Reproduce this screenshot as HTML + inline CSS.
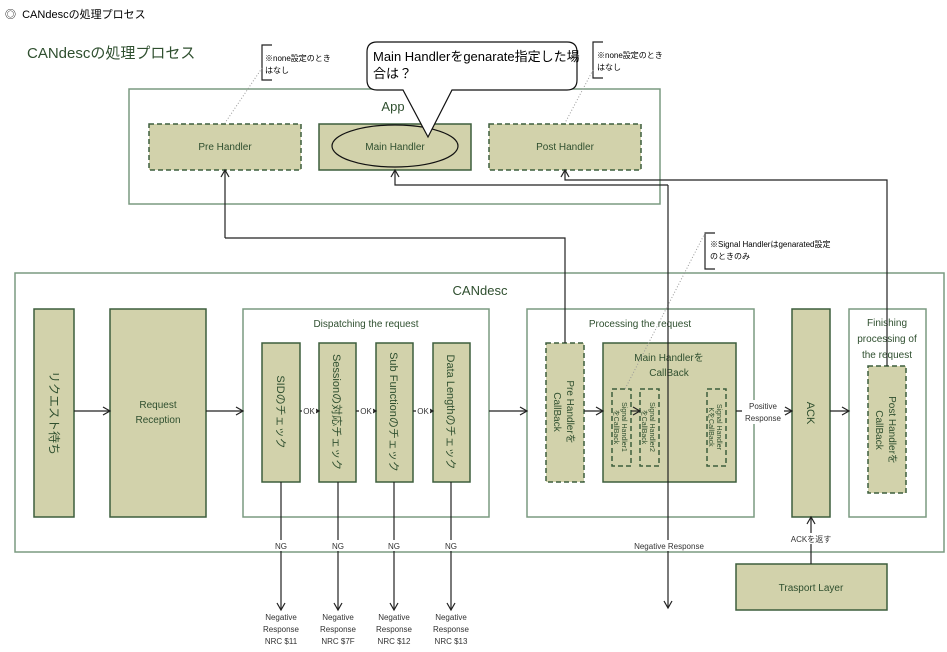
<!DOCTYPE html>
<html><head><meta charset="utf-8"><style>
body{margin:0;background:#fff}
svg{display:block;font-family:"Liberation Sans","Noto Sans CJK JP",sans-serif}
.g{fill:#2f4f2f}
.bx{fill:#fff;stroke:#7a9a80;stroke-width:1.5}
.f{fill:#d2d2ab;stroke:#3d5e3d;stroke-width:1.5}
.d{fill:#d2d2ab;stroke:#3d5e3d;stroke-width:1.5;stroke-dasharray:5,3}
.ln{stroke:#222;stroke-width:1.2;fill:none}
.dot{stroke:#999;stroke-width:1;stroke-dasharray:1,2;fill:none}
</style></head><body>
<svg width="947" height="652" viewBox="0 0 947 652">
<defs><marker id="a" markerWidth="10" markerHeight="10" refX="8" refY="5" orient="auto" markerUnits="userSpaceOnUse"><path d="M1,1 L8,5 L1,9" fill="none" stroke="#222" stroke-width="1.2"/></marker></defs>
<text x="5" y="18" font-size="11" fill="#000">◎&#160;&#160;CANdescの処理プロセス</text>
<text x="27" y="58" font-size="15" class="g">CANdescの処理プロセス</text>

<!-- App -->
<rect class="bx" x="129" y="89" width="531" height="115"/>
<text x="393" y="111" font-size="13" class="g" text-anchor="middle">App</text>
<rect class="d" x="149" y="124" width="152" height="46"/>
<text x="225" y="150" font-size="10" class="g" text-anchor="middle">Pre Handler</text>
<rect class="f" x="319" y="124" width="152" height="46"/>
<ellipse cx="395" cy="146" rx="63" ry="21" fill="none" stroke="#111" stroke-width="1.2"/>
<text x="395" y="150" font-size="10" class="g" text-anchor="middle">Main Handler</text>
<rect class="d" x="489" y="124" width="152" height="46"/>
<text x="565" y="150" font-size="10" class="g" text-anchor="middle">Post Handler</text>

<!-- notes -->
<path class="ln" d="M272,45 H262 V80 H272" stroke-width="1"/>
<text x="265" y="61" font-size="8" fill="#000">※none設定のとき</text>
<text x="265" y="73" font-size="8" fill="#000">はなし</text>
<path class="dot" d="M262,68 L225,123"/>
<path class="ln" d="M603,42 H593 V78 H603" stroke-width="1"/>
<text x="597" y="58" font-size="8" fill="#000">※none設定のとき</text>
<text x="597" y="70" font-size="8" fill="#000">はなし</text>
<path class="dot" d="M593,70 L565,123"/>

<!-- callout -->
<path d="M377,42 H567 Q577,42 577,52 V80 Q577,90 567,90 H452 L428,137 L403,90 H377 Q367,90 367,80 V52 Q367,42 377,42 Z" fill="#fff" stroke="#111" stroke-width="1.2"/>
<text x="373" y="61" font-size="13" fill="#000">Main Handlerをgenarate指定した場</text>
<text x="373" y="78" font-size="13" fill="#000">合は？</text>

<!-- CANdesc -->
<rect class="bx" x="15" y="273" width="929" height="279"/>
<text x="480" y="295" font-size="13" class="g" text-anchor="middle">CANdesc</text>

<rect class="f" x="34" y="309" width="40" height="208"/>
<text transform="translate(54,413) rotate(90)" font-size="12" class="g" text-anchor="middle" dy="4">リクエスト待ち</text>
<rect class="f" x="110" y="309" width="96" height="208"/>
<text x="158" y="408" font-size="10" class="g" text-anchor="middle">Request</text>
<text x="158" y="423" font-size="10" class="g" text-anchor="middle">Reception</text>

<rect class="bx" x="243" y="309" width="246" height="208"/>
<text x="366" y="327" font-size="10" class="g" text-anchor="middle">Dispatching the request</text>
<rect class="f" x="262" y="343" width="38" height="139"/>
<text transform="translate(281,412) rotate(90)" font-size="11" class="g" text-anchor="middle" dy="4">SIDのチェック</text>
<rect class="f" x="319" y="343" width="37" height="139"/>
<text transform="translate(337,412) rotate(90)" font-size="11" class="g" text-anchor="middle" dy="4">Sessionの対応チェック</text>
<rect class="f" x="376" y="343" width="37" height="139"/>
<text transform="translate(394,412) rotate(90)" font-size="11" class="g" text-anchor="middle" dy="4">Sub Functionのチェック</text>
<rect class="f" x="433" y="343" width="37" height="139"/>
<text transform="translate(451,412) rotate(90)" font-size="11" class="g" text-anchor="middle" dy="4">Data Lengthのチェック</text>

<rect class="bx" x="527" y="309" width="227" height="208"/>
<text x="640" y="327" font-size="10" class="g" text-anchor="middle">Processing the request</text>
<rect class="d" x="546" y="343" width="38" height="139"/>
<text transform="translate(565,412) rotate(90)" font-size="10" class="g" text-anchor="middle"><tspan x="0" dy="-2">Pre Handlerを</tspan><tspan x="0" dy="13">CallBack</tspan></text>
<rect class="f" x="603" y="343" width="133" height="139"/>
<text x="669" y="361" font-size="10" class="g" text-anchor="middle">Main Handlerを</text>
<text x="669" y="376" font-size="10" class="g" text-anchor="middle">CallBack</text>
<rect class="d" x="612" y="389" width="19" height="77"/>
<text transform="translate(621,427) rotate(90)" font-size="7" class="g" text-anchor="middle"><tspan x="0" dy="-1">Signal Handler1</tspan><tspan x="0" dy="8">をCallBack</tspan></text>
<rect class="d" x="640" y="389" width="19" height="77"/>
<text transform="translate(649,427) rotate(90)" font-size="7" class="g" text-anchor="middle"><tspan x="0" dy="-1">Signal Handler2</tspan><tspan x="0" dy="8">をCallBack</tspan></text>
<rect class="d" x="707" y="389" width="19" height="77"/>
<text transform="translate(716,427) rotate(90)" font-size="7" class="g" text-anchor="middle"><tspan x="0" dy="-1">Signal Handler</tspan><tspan x="0" dy="8">KをCallBack</tspan></text>

<rect class="f" x="792" y="309" width="38" height="208"/>
<text transform="translate(811,413) rotate(90)" font-size="11" class="g" text-anchor="middle" dy="4">ACK</text>
<rect class="bx" x="849" y="309" width="77" height="208"/>
<text x="887" y="326" font-size="10" class="g" text-anchor="middle">Finishing</text>
<text x="887" y="342" font-size="10" class="g" text-anchor="middle">processing of</text>
<text x="887" y="358" font-size="10" class="g" text-anchor="middle">the request</text>
<rect class="d" x="868" y="366" width="38" height="127"/>
<text transform="translate(887,430) rotate(90)" font-size="10" class="g" text-anchor="middle"><tspan x="0" dy="-2">Post Handlerを</tspan><tspan x="0" dy="13">CallBack</tspan></text>

<rect class="f" x="736" y="564" width="151" height="46"/>
<text x="811" y="591" font-size="10" class="g" text-anchor="middle">Trasport Layer</text>

<!-- note 3 -->
<path class="ln" d="M715,233 H705 V269 H715" stroke-width="1"/>
<text x="710" y="247" font-size="8" fill="#000">※Signal Handlerはgenarated設定</text>
<text x="710" y="259" font-size="8" fill="#000">のときのみ</text>
<path class="dot" d="M705,233 L625,389"/>

<!-- connectors -->
<path class="ln" d="M74,411 H110" marker-end="url(#a)"/>
<path class="ln" d="M206,411 H243" marker-end="url(#a)"/>
<path class="ln" d="M300,411 H319" marker-end="url(#a)"/>
<path class="ln" d="M356,411 H376" marker-end="url(#a)"/>
<path class="ln" d="M413,411 H433" marker-end="url(#a)"/>
<rect x="302" y="405" width="14" height="11" fill="#fff"/><text x="309" y="414" font-size="8" fill="#333" text-anchor="middle">OK</text>
<rect x="359" y="405" width="14" height="11" fill="#fff"/><text x="366" y="414" font-size="8" fill="#333" text-anchor="middle">OK</text>
<rect x="416" y="405" width="14" height="11" fill="#fff"/><text x="423" y="414" font-size="8" fill="#333" text-anchor="middle">OK</text>
<path class="ln" d="M489,411 H527" marker-end="url(#a)"/>
<path class="ln" d="M584,411 H603" marker-end="url(#a)"/>
<path class="ln" d="M631,411 H640" marker-end="url(#a)"/>
<path class="ln" d="M736,411 H792" marker-end="url(#a)"/>
<rect x="742" y="400" width="42" height="24" fill="#fff"/>
<text x="763" y="409" font-size="8" fill="#333" text-anchor="middle">Positive</text>
<text x="763" y="421" font-size="8" fill="#333" text-anchor="middle">Response</text>
<path class="ln" d="M830,411 H849" marker-end="url(#a)"/>

<path class="ln" d="M281,482 V610" marker-end="url(#a)"/>
<path class="ln" d="M338,482 V610" marker-end="url(#a)"/>
<path class="ln" d="M394,482 V610" marker-end="url(#a)"/>
<path class="ln" d="M451,482 V610" marker-end="url(#a)"/>
<g font-size="8" fill="#333" text-anchor="middle">
<rect x="273" y="540" width="16" height="11" fill="#fff"/><text x="281" y="549">NG</text>
<rect x="330" y="540" width="16" height="11" fill="#fff"/><text x="338" y="549">NG</text>
<rect x="386" y="540" width="16" height="11" fill="#fff"/><text x="394" y="549">NG</text>
<rect x="443" y="540" width="16" height="11" fill="#fff"/><text x="451" y="549">NG</text>
<text x="281" y="620">Negative</text><text x="281" y="632">Response</text><text x="281" y="644">NRC $11</text>
<text x="338" y="620">Negative</text><text x="338" y="632">Response</text><text x="338" y="644">NRC $7F</text>
<text x="394" y="620">Negative</text><text x="394" y="632">Response</text><text x="394" y="644">NRC $12</text>
<text x="451" y="620">Negative</text><text x="451" y="632">Response</text><text x="451" y="644">NRC $13</text>
</g>

<path class="ln" d="M225,238 V170" marker-end="url(#a)"/>
<path class="ln" d="M225,238 H565 V343"/>
<path class="ln" d="M668,185 H395 V170" marker-end="url(#a)"/>
<path class="ln" d="M668,185 V608" marker-end="url(#a)"/>
<rect x="634" y="540" width="70" height="11" fill="#fff"/>
<text x="669" y="549" font-size="8" fill="#333" text-anchor="middle">Negative Response</text>
<path class="ln" d="M887,366 V180 H565 V170" marker-end="url(#a)"/>
<path class="ln" d="M811,564 V517" marker-end="url(#a)"/>
<rect x="790" y="533" width="42" height="11" fill="#fff"/>
<text x="811" y="542" font-size="8" fill="#333" text-anchor="middle">ACKを返す</text>
</svg>
</body></html>
